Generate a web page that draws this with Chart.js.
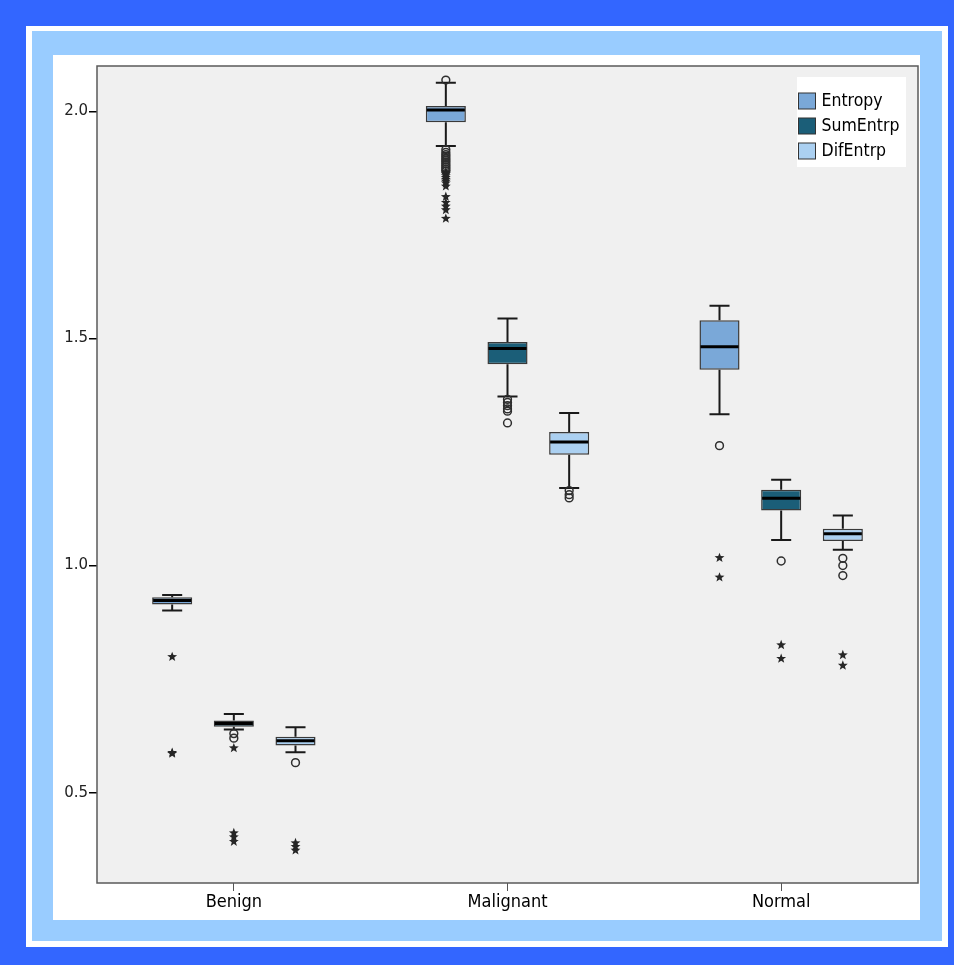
<!DOCTYPE html>
<html>
<head>
<meta charset="utf-8">
<title>Entropy features by class</title>
<script src="https://cdn.jsdelivr.net/npm/chart.js@4.4.1/dist/chart.umd.min.js"></script>
<style>
  html, body { margin: 0; padding: 0; }
  body { width: 954px; height: 965px; background: #3366ff; position: relative; overflow: hidden; }
  .frame { position: absolute; }
  #f1 { left: 26px; top: 26px; width: 922px; height: 921px; background: #ffffff; }
  #f2 { left: 32px; top: 31px; width: 910px; height: 910px; background: #99ccff; }
  #f3 { left: 53px; top: 55px; width: 867px; height: 865px; background: #ffffff; }
  canvas { position: absolute; left: 0; top: 0; }
</style>
</head>
<body>
<div class="frame" id="f1"></div>
<div class="frame" id="f2"></div>
<div class="frame" id="f3"><canvas id="c" width="867" height="865"></canvas></div>
<script>
// Groups on the x axis
const categories = ['Benign', 'Malignant', 'Normal'];
const seriesNames = ['Entropy', 'SumEntrp', 'DifEntrp'];
const seriesColors = ['#7aa8d8', '#1b5e78', '#abd0f1'];

// Box summaries per group: [lower whisker, Q1, median, Q3, upper whisker]
const entropyBox = [
  [0.901, 0.914, 0.923, 0.930, 0.935],
  [1.924, 1.976, 2.003, 2.012, 2.063],
  [1.333, 1.431, 1.482, 1.540, 1.572]
];
const sumEntrpBox = [
  [0.639, 0.645, 0.652, 0.659, 0.673],
  [1.372, 1.443, 1.478, 1.492, 1.544],
  [1.056, 1.121, 1.148, 1.167, 1.189]
];
const difEntrpBox = [
  [0.589, 0.604, 0.614, 0.623, 0.644],
  [1.171, 1.244, 1.272, 1.294, 1.336],
  [1.035, 1.054, 1.070, 1.081, 1.110]
];

// Outliers (circles) and extreme values (stars) per group
const entropyOutliers = [
  [],
  [2.069, 1.916, 1.910, 1.905, 1.901, 1.897, 1.893, 1.889, 1.885, 1.881, 1.877, 1.873, 1.869],
  [1.264]
];
const entropyExtremes = [
  [0.799, 0.588, 0.586],
  [1.866, 1.862, 1.858, 1.854, 1.850, 1.846, 1.842, 1.835, 1.812, 1.799, 1.791, 1.783, 1.764],
  [1.017, 0.974]
];
const sumEntrpOutliers = [
  [0.630, 0.620],
  [1.366, 1.359, 1.352, 1.345, 1.340, 1.314],
  [1.010]
];
const sumEntrpExtremes = [
  [0.598, 0.411, 0.402, 0.392],
  [],
  [0.825, 0.795]
];
const difEntrpOutliers = [
  [0.566],
  [1.165, 1.156, 1.149],
  [1.016, 1.000, 0.978]
];
const difEntrpExtremes = [
  [0.389, 0.381, 0.373],
  [],
  [0.803, 0.780]
];

// Value axis
const yMin = 0.301;
const yMax = 2.100;
const yTickValues = [0.5, 1.0, 1.5, 2.0];

const boxSets = [entropyBox, sumEntrpBox, difEntrpBox];
const outlierSets = [entropyOutliers, sumEntrpOutliers, difEntrpOutliers];
const extremeSets = [entropyExtremes, sumEntrpExtremes, difEntrpExtremes];

const condensed = '"DejaVu Sans Condensed", "DejaVu Sans", sans-serif';

function drawStar(ctx, x, y, r) {
  const inner = r * 0.42;
  ctx.beginPath();
  for (let k = 0; k < 10; k++) {
    const rad = (k % 2 === 0) ? r : inner;
    const a = -Math.PI / 2 + k * Math.PI / 5;
    const px = x + rad * Math.cos(a);
    const py = y + rad * Math.sin(a);
    if (k === 0) ctx.moveTo(px, py); else ctx.lineTo(px, py);
  }
  ctx.closePath();
  ctx.fill();
}

// Plot background, frame, whiskers, medians, outliers and legend
const boxplotPlugin = {
  id: 'boxplotParts',
  beforeDatasetsDraw(chart) {
    const { ctx, chartArea: a } = chart;
    ctx.save();
    ctx.fillStyle = '#f0f0f0';
    ctx.fillRect(a.left, a.top, a.right - a.left, a.bottom - a.top);
    ctx.restore();
  },
  afterDatasetsDraw(chart) {
    const { ctx } = chart;
    const y = chart.scales.y;
    ctx.save();
    boxSets.forEach((set, di) => {
      const meta = chart.getDatasetMeta(di);
      meta.data.forEach((bar, ci) => {
        const [lo, q1, med, q3, hi] = set[ci];
        const x = bar.x;
        const w = bar.width;
        const half = w / 4;
        // whiskers and caps
        ctx.strokeStyle = '#1a1a1a';
        ctx.lineWidth = 2;
        ctx.beginPath();
        ctx.moveTo(x, y.getPixelForValue(q3));
        ctx.lineTo(x, y.getPixelForValue(hi));
        ctx.moveTo(x, y.getPixelForValue(q1));
        ctx.lineTo(x, y.getPixelForValue(lo));
        ctx.moveTo(x - half, y.getPixelForValue(hi));
        ctx.lineTo(x + half, y.getPixelForValue(hi));
        ctx.moveTo(x - half, y.getPixelForValue(lo));
        ctx.lineTo(x + half, y.getPixelForValue(lo));
        ctx.stroke();
        // median
        ctx.strokeStyle = '#000000';
        ctx.lineWidth = 3;
        ctx.beginPath();
        ctx.moveTo(x - w / 2 + 1, y.getPixelForValue(med));
        ctx.lineTo(x + w / 2 - 1, y.getPixelForValue(med));
        ctx.stroke();
        // outliers
        ctx.strokeStyle = '#2e2e2e';
        ctx.lineWidth = 1.5;
        outlierSets[di][ci].forEach(v => {
          ctx.beginPath();
          ctx.arc(x, y.getPixelForValue(v), 3.9, 0, Math.PI * 2);
          ctx.stroke();
        });
        ctx.fillStyle = '#262626';
        extremeSets[di][ci].forEach(v => {
          drawStar(ctx, x, y.getPixelForValue(v), 5.2);
        });
      });
    });
    ctx.restore();
  },
  afterDraw(chart) {
    const { ctx, chartArea: a } = chart;
    ctx.save();
    // plot frame
    ctx.strokeStyle = '#5a5a5a';
    ctx.lineWidth = 1.5;
    ctx.strokeRect(a.left, a.top, a.right - a.left, a.bottom - a.top);
    // legend
    const lx = a.right - 121;
    const ly = a.top + 11;
    ctx.fillStyle = '#ffffff';
    ctx.fillRect(lx, ly, 109, 90);
    ctx.font = '17.5px ' + condensed;
    ctx.textBaseline = 'middle';
    ctx.textAlign = 'left';
    chart.data.datasets.forEach((ds, i) => {
      const sy = ly + 16 + i * 25;
      ctx.fillStyle = ds.backgroundColor;
      ctx.fillRect(lx + 1.5, sy, 17, 16);
      ctx.strokeStyle = '#333333';
      ctx.lineWidth = 1;
      ctx.strokeRect(lx + 1.5, sy, 17, 16);
      ctx.fillStyle = '#000000';
      ctx.fillText(ds.label, lx + 24.5, sy + 8.5);
    });
    ctx.restore();
  }
};

new Chart(document.getElementById('c'), {
  type: 'bar',
  data: {
    labels: categories,
    datasets: seriesNames.map((name, i) => ({
      label: name,
      data: boxSets[i].map(b => [b[1], b[3]]),
      backgroundColor: seriesColors[i],
      borderColor: '#3a3a3a',
      borderWidth: 1.5,
      borderSkipped: false,
      categoryPercentage: 0.676,
      barPercentage: 0.65
    }))
  },
  options: {
    responsive: false,
    devicePixelRatio: 1,
    animation: false,
    layout: { padding: { top: 11, right: 2, left: 0, bottom: 0 } },
    plugins: {
      legend: { display: false },
      tooltip: { enabled: false }
    },
    scales: {
      x: {
        offset: true,
        grid: { offset: false, drawOnChartArea: false, drawTicks: true, tickLength: 8, color: '#555555', lineWidth: 1 },
        border: { display: false },
        ticks: { color: '#000000', padding: 1, font: { family: condensed, size: 18 } },
        afterFit(scale) { scale.height = 37; }
      },
      y: {
        min: yMin,
        max: yMax,
        grid: { drawOnChartArea: false, drawTicks: true, tickLength: 8, color: '#000000', lineWidth: 1.5 },
        border: { display: false },
        afterBuildTicks(axis) { axis.ticks = yTickValues.map(v => ({ value: v })); },
        ticks: {
          color: '#222222',
          padding: 1,
          font: { family: '"DejaVu Sans", sans-serif', size: 15 },
          callback: v => Number(v).toFixed(1)
        },
        afterFit(scale) { scale.width = 44; }
      }
    }
  },
  plugins: [boxplotPlugin]
});
</script>
</body>
</html>
